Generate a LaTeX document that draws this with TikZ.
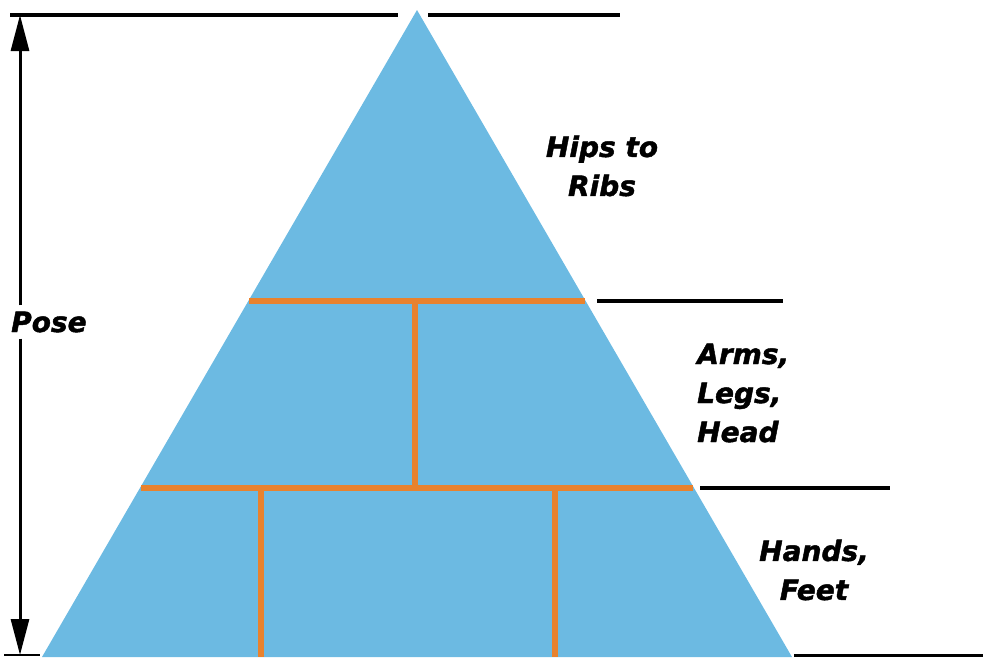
\documentclass[tikz,border=0pt]{standalone}
\usepackage{fontspec}
\newfontfamily\lblfont{DejaVu Sans Bold Oblique}[FakeBold=1.6]
\usetikzlibrary{arrows.meta}
\definecolor{pyrblue}{RGB}{108,186,226}
\definecolor{pyrorange}{RGB}{232,130,46}
\definecolor{baseline}{RGB}{120,120,120}
\tikzset{
  lbl/.style={font=\lblfont\fontsize{28}{39}\selectfont, inner sep=2pt},
  brick/.style={draw=pyrorange, line width=6.5pt},
  guide/.style={draw=black, line width=4.5pt},
  posearrow/.style={draw=black, line width=3pt, -{Triangle[width=18pt,length=36pt]}}
}
\begin{document}
\begin{tikzpicture}[x=1pt,y=-1pt]
\useasboundingbox (0,0) rectangle (983,657);
% triangle
\coordinate (apex) at (417,10);
\coordinate (bl) at (42,657);
\coordinate (br) at (792,657);
\fill[pyrblue] (apex) -- (br) -- (bl) -- cycle;
% brick lines
\coordinate (l1) at (249,301);
\coordinate (r1) at (585,301);
\coordinate (l2) at (141,488);
\coordinate (r2) at (693,488);
\draw[brick] (l1) -- (r1);
\draw[brick] (l2) -- (r2);
\coordinate (v1t) at (415,301);
\coordinate (v1b) at (415,488);
\draw[brick] (v1t) -- (v1b);
\coordinate (v2t) at (261,488);
\coordinate (v2b) at (261,657);
\coordinate (v3t) at (555,488);
\coordinate (v3b) at (555,657);
\draw[brick] (v2t) -- (v2b);
\draw[brick] (v3t) -- (v3b);
% guide lines
\coordinate (g0a) at (10,15);
\coordinate (g0b) at (398,15);
\coordinate (g0c) at (428,15);
\coordinate (g0d) at (620,15);
\draw[guide] (g0a) -- (g0b);
\draw[guide] (g0c) -- (g0d);
\coordinate (g1a) at (597,301);
\coordinate (g1b) at (783,301);
\draw[guide] (g1a) -- (g1b);
\coordinate (g2a) at (700,488);
\coordinate (g2b) at (890,488);
\draw[guide] (g2a) -- (g2b);
\coordinate (g3a) at (794,655);
\coordinate (g3b) at (983,655);
\draw[baseline, line width=3pt] (g3a) -- (g3b);
\coordinate (g4a) at (4,655);
\coordinate (g4b) at (40,655);
\draw[baseline, line width=2.5pt] (g4a) -- (g4b);
% labels
\node[lbl, align=center] (hips) at (602,166) {Hips to\\Ribs};
\node[lbl, align=left, anchor=west] (arms) at (695,393) {Arms,\\Legs,\\Head};
\node[lbl, align=center] (hands) at (814,570) {Hands,\\Feet};
\node[lbl, anchor=west, fill=white, inner ysep=6pt] (pose) at (9,322) {Pose};
% pose arrow
\coordinate (ptop) at (20,15);
\coordinate (pbot) at (20,655);
\draw[posearrow] (pose.north -| ptop) -- (ptop);
\draw[posearrow] (pose.south -| pbot) -- (pbot);
\end{tikzpicture}
\end{document}
